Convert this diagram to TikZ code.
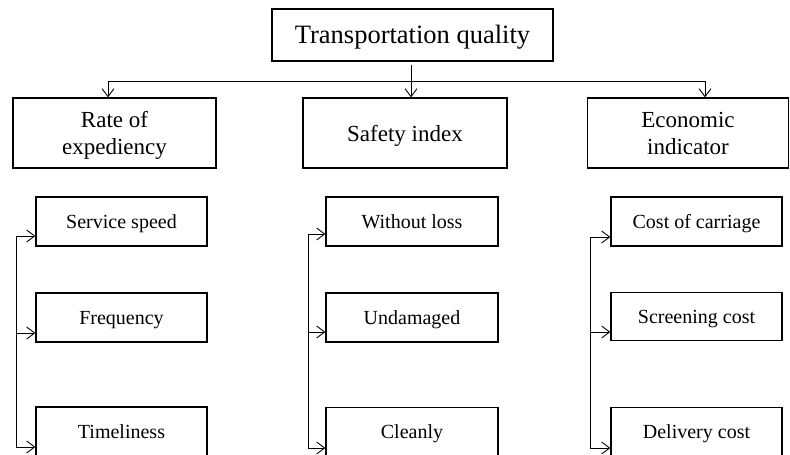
\documentclass[tikz,border=0pt]{standalone}
\usepackage{fontspec}
\setmainfont{Liberation Serif}
\usetikzlibrary{arrows.meta}
\begin{document}
\begin{tikzpicture}[x=1pt,y=-1pt,
  box/.style={draw,line width=1.3pt,inner sep=0pt,align=center,text depth=0pt},
  topbox/.style={box,minimum width=281pt,minimum height=52pt,text height=17.5pt,font=\fontsize{26.5}{30}\selectfont},
  midbox/.style={box,minimum width=203pt,minimum height=70pt,font=\fontsize{23}{27}\selectfont},
  leafbox/.style={box,minimum width=171pt,minimum height=49pt,text height=13.2pt,font=\fontsize{20}{24}\selectfont},
  conn/.style={line width=0.9pt},
  arr/.style={conn,-{Straight Barb[length=8pt,width=12pt,line width=0.9pt]}}]
\clip (0,0) rectangle (790,455);
\useasboundingbox (0,0) rectangle (790,455);
% nodes
\node[topbox] (top) at (412.5,35) {Transportation quality};
\node[midbox] (m1) at (114.5,133) {Rate of\\expediency};
\node[midbox,minimum width=204pt] (m2) at (405,133) {Safety index};
\node[midbox,minimum width=201pt] (m3) at (688,133) {Economic\\indicator};
\node[leafbox] (l11) at (121.5,221.5) {Service speed};
\node[leafbox] (l12) at (121.5,317.5) {Frequency};
\node[leafbox] (l13) at (121.5,431.5) {Timeliness};
\node[leafbox,minimum width=172pt] (l21) at (412,221.5) {Without loss};
\node[leafbox,minimum width=172pt] (l22) at (412,317.5) {Undamaged};
\node[leafbox,minimum width=172pt] (l23) at (412,432) {Cleanly};
\node[leafbox] (l31) at (696.5,221.5) {Cost of carriage};
\node[leafbox,minimum height=48pt] (l32) at (696.5,316.5) {Screening cost};
\node[leafbox] (l33) at (696.5,432) {Delivery cost};
% top connectors
\coordinate (hj) at (411,81);
\coordinate (h1) at (108,81);
\coordinate (h3) at (705,81);
\draw[conn] ([yshift=-3pt]top.south -| hj) -- (hj);
\draw[conn] (h1) -- (h3);
\draw[arr] (h1) -- (h1 |- m1.north);
\draw[arr] (hj) -- (hj |- m2.north);
\draw[arr] (h3) -- (h3 |- m3.north);
% column 1
\coordinate (a11) at (16,236);
\coordinate (a12) at (16,333);
\coordinate (a13) at (16,447);
\draw[conn] (a11) -- (a13);
\draw[arr] (a11) -- (a11 -| l11.west);
\draw[arr] (a12) -- (a12 -| l12.west);
\draw[arr] (a13) -- (a13 -| l13.west);
% column 2
\coordinate (a21) at (308,234);
\coordinate (a22) at (308,332);
\coordinate (a23) at (308,448);
\draw[conn] (a21) -- (a23);
\draw[arr] (a21) -- (a21 -| l21.west);
\draw[arr] (a22) -- (a22 -| l22.west);
\draw[arr] (a23) -- (a23 -| l23.west);
% column 3
\coordinate (a31) at (590,237);
\coordinate (a32) at (590,332);
\coordinate (a33) at (590,448);
\draw[conn] (a31) -- (a33);
\draw[arr] (a31) -- (a31 -| l31.west);
\draw[arr] (a32) -- (a32 -| l32.west);
\draw[arr] (a33) -- (a33 -| l33.west);
\end{tikzpicture}
\end{document}
